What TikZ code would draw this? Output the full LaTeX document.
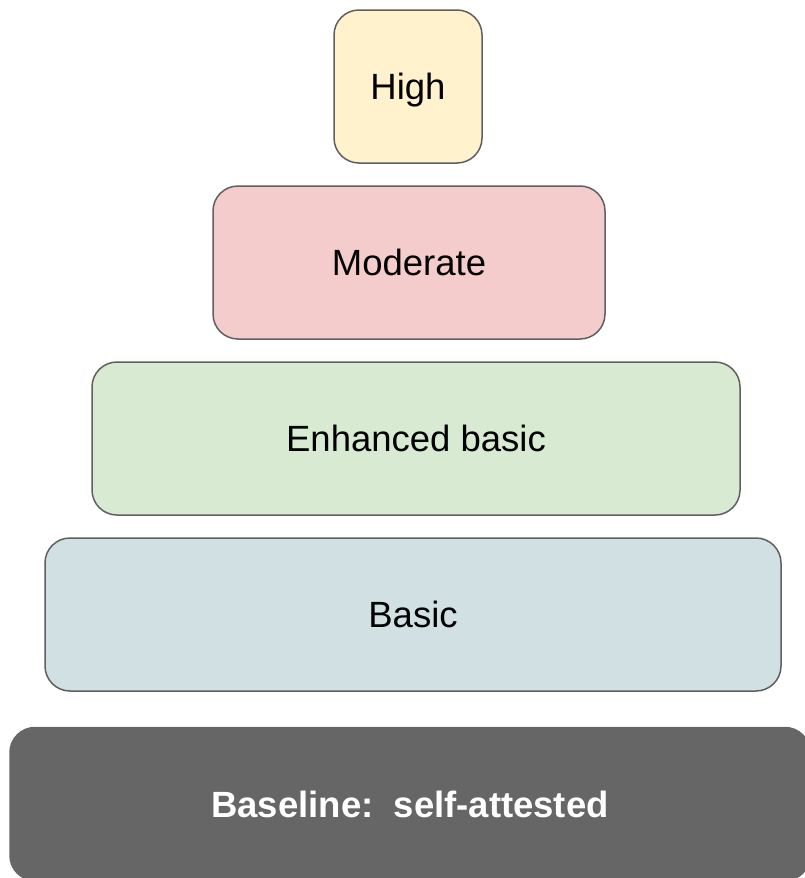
\documentclass[tikz,border=0pt]{standalone}
\usepackage{fontspec}
\setmainfont{Liberation Sans}
\usepackage{xcolor}
\definecolor{highfill}{HTML}{FFF2CC}
\definecolor{modfill}{HTML}{F4CCCC}
\definecolor{enhfill}{HTML}{D9EAD3}
\definecolor{basicfill}{HTML}{D0E0E3}
\definecolor{basefill}{HTML}{666666}
\definecolor{edgegray}{HTML}{5F5F5F}

\begin{document}
\begin{tikzpicture}[x=1pt,y=-1pt]
\tikzset{
    level/.style={%
        draw=edgegray, line width=1.5pt,
        rectangle,
        rounded corners=25pt,
        minimum height=153pt,
        text height=32pt, text depth=5.5pt,
        font=\fontsize{36.5}{42}\selectfont,
        inner sep=0pt
        },
    baselevel/.style={%
        level,
        draw=basefill, fill=basefill,
        text=white,
        font=\fontsize{36.5}{42}\selectfont\bfseries
        },
}
\useasboundingbox (0,0) rectangle (805,878);
\begin{scope}
\clip (0,0) rectangle (805,878);
%%%LEVELS
\node[level, fill=highfill, minimum width=148pt] (high) at (408,86.5) {High};
\node[level, fill=modfill, minimum width=392pt] (moderate) at (409,262.5) {Moderate};
\node[level, fill=enhfill, minimum width=648pt] (enhanced) at (416,438.5) {Enhanced basic};
\node[level, fill=basicfill, minimum width=736pt] (basic) at (413,614.5) {Basic};
%%%BASELINE
\node[baselevel, minimum width=800pt] (baseline) at (410,804) {Baseline:\ \ self-attested};
\end{scope}
\end{tikzpicture}
\end{document}
